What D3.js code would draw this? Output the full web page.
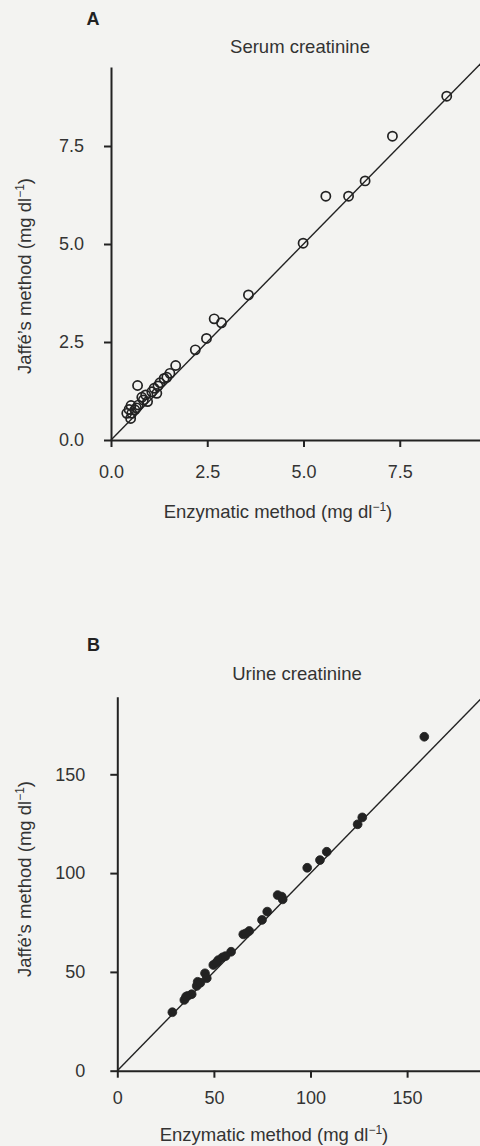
<!DOCTYPE html>
<html><head><meta charset="utf-8">
<script src="https://cdn.jsdelivr.net/npm/d3@7"></script>
<style>
html,body{margin:0;padding:0;background:#f3f3f1;}
svg{display:block;font-family:"Liberation Sans",Arial,sans-serif;}
</style></head>
<body>
<script>
// Serum creatinine (mg/dl): enzymatic vs Jaffé
const serumEnz = [8.72,7.31,6.60,6.17,5.58,4.99,3.57,2.68,2.87,2.48,2.19,1.68,1.53,1.38,1.27,0.69,1.19,1.06,0.90,0.80,0.84,0.71,0.52,0.41,0.54,0.62,0.51,1.12,0.95,0.66,0.47,1.45,1.22];
const serumJaf = [8.77,7.75,6.61,6.22,6.22,5.02,3.70,3.09,2.99,2.59,2.30,1.90,1.70,1.57,1.46,1.39,1.19,1.23,1.15,1.09,1.02,0.89,0.88,0.68,0.68,0.77,0.55,1.32,0.98,0.82,0.78,1.60,1.38];
const serumTicks = [0,2.5,5,7.5];
// Urine creatinine (mg/dl)
const urineEnz = [158.9,126.8,124.4,108.4,104.9,98.3,85.1,83.0,85.6,77.6,74.9,68.3,65.2,66.6,58.9,54.5,52.3,49.7,51.4,45.4,46.3,41.6,41.1,38.5,36.4,34.7,35.6,28.5,43.0,56.0];
const urineJaf = [169.0,128.2,124.7,110.8,106.6,102.7,88.1,88.9,86.7,80.5,76.3,70.7,69.0,69.5,60.2,57.4,56.0,53.5,54.8,49.3,46.8,45.0,42.9,38.7,37.8,35.8,37.5,29.6,44.5,58.0];
const urineTicks = [0,50,100,150];

const W=480,H=1146;
const svg=d3.select("body").append("svg").attr("width",W).attr("height",H);
const ink="#222";
const txt="#333";

function panel(o){
  const x=d3.scaleLinear().domain([0,o.xMax]).range([o.x0,o.x0+o.xMax*o.px]);
  const y=d3.scaleLinear().domain([0,o.yMax]).range([o.y0,o.y0-o.yMax*o.py]);
  const g=svg.append("g");
  const lm=Math.min(o.xMax,o.lineMax);
  g.append("line").attr("x1",x(0)).attr("y1",y(0)).attr("x2",x(lm)).attr("y2",y(lm))
    .attr("stroke",ink).attr("stroke-width",1.4);
  const ax=g.append("g").attr("transform",`translate(0,${o.y0})`)
    .call(d3.axisBottom(x).tickValues(o.ticks).tickFormat(o.fmt).tickSize(7).tickSizeOuter(0).tickPadding(o.xpad));
  const ay=g.append("g").attr("transform",`translate(${o.x0},0)`)
    .call(d3.axisLeft(y).tickValues(o.ticks).tickFormat(o.fmt).tickSize(7).tickSizeOuter(0).tickPadding(o.ypad));
  [ax,ay].forEach(a=>{
    a.selectAll("path,line").attr("stroke",ink).attr("stroke-width",2);
    a.selectAll("text").attr("fill",txt).attr("font-size",18).attr("font-family","Liberation Sans, Arial, sans-serif");
  });
  g.selectAll("circle.pt").data(o.xs.map((v,i)=>[v,o.ys[i]])).join("circle")
    .attr("cx",d=>x(d[0])).attr("cy",d=>y(d[1])).attr("r",o.r)
    .attr("fill",o.filled?ink:"none").attr("stroke",ink).attr("stroke-width",o.filled?0.8:1.7);
  g.append("text").attr("x",o.letter[0]).attr("y",o.letter[1]).text(o.letterText)
    .attr("font-size",18).attr("font-weight","bold").attr("fill",ink).attr("text-anchor","middle");
  g.append("text").attr("x",o.title[0]).attr("y",o.title[1]).text(o.titleText)
    .attr("font-size",18.5).attr("fill",txt).attr("text-anchor","middle");
  const xl=g.append("text").attr("x",o.xlab[0]).attr("y",o.xlab[1]).attr("font-size",18.5)
    .attr("fill",txt).attr("text-anchor","middle");
  xl.append("tspan").text("Enzymatic method (mg dl");
  xl.append("tspan").text("−1").attr("font-size",12).attr("dy",-7);
  xl.append("tspan").text(")").attr("dy",7);
  const yl=g.append("text").attr("transform",`translate(${o.ylab[0]},${o.ylab[1]}) rotate(-90)`)
    .attr("font-size",18.5).attr("fill",txt).attr("text-anchor","middle");
  yl.append("tspan").text("Jaffé’s method (mg dl");
  yl.append("tspan").text("−1").attr("font-size",12).attr("dy",-7);
  yl.append("tspan").text(")").attr("dy",7);
}

panel({xs:serumEnz,ys:serumJaf,x0:111,y0:440,px:38.5,py:39.2,xMax:9.6,yMax:9.515,lineMax:9.6,
  ticks:serumTicks,fmt:d3.format(".1f"),r:4.6,filled:false,xpad:18,ypad:20,
  letter:[93,25],letterText:"A",title:[300,53],titleText:"Serum creatinine",
  xlab:[278,518],ylab:[31,276]});
panel({xs:urineEnz,ys:urineJaf,x0:117.3,y0:1070.7,px:1.932,py:1.976,xMax:188,yMax:189.3,lineMax:190,
  ticks:urineTicks,fmt:d3.format("d"),r:4.4,filled:true,xpad:14,ypad:25,
  letter:[93.5,651],letterText:"B",title:[297,680],titleText:"Urine creatinine",
  xlab:[274,1141],ylab:[31,879]});
</script>
</body></html>
